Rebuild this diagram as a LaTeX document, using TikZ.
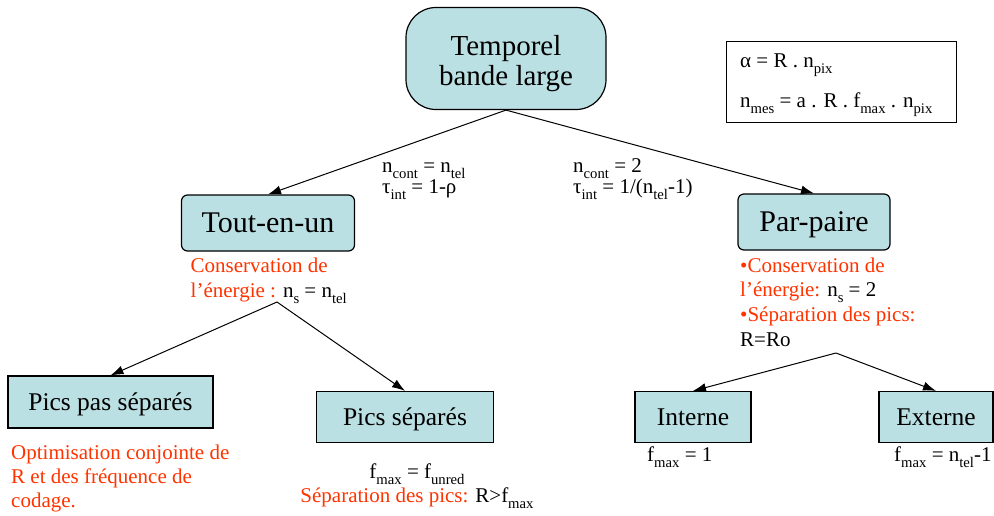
\documentclass[tikz,border=0pt]{standalone}
\usepackage{fontspec}
\setmainfont{Liberation Serif}
\usetikzlibrary{arrows.meta}
\definecolor{boxfill}{HTML}{BBE0E3}
\definecolor{redtxt}{HTML}{FF3300}
\newcommand\lo[1]{\raisebox{-0.3em}{\scalebox{0.7}{#1}}}
\begin{document}
\begin{tikzpicture}[x=1pt,y=-1pt,
  box/.style={draw, fill=boxfill, line width=1.2pt, inner sep=0pt, align=center, text depth=0pt},
  arr/.style={-{Latex[length=13pt,width=9pt]}, line width=1pt},
  lbl/.style={anchor=base west, inner sep=0pt, font=\fontsize{21}{21}\selectfont},
  rtxt/.style={anchor=base west, inner sep=0pt, text=redtxt, font=\fontsize{21}{21}\selectfont}]
\useasboundingbox (0,0) rectangle (994,515);
\node[box, rounded corners=30pt, minimum width=200pt, minimum height=102pt] (top) at (506,58.5) {};
\node[anchor=base, inner sep=0pt, font=\fontsize{29}{30}\selectfont] (topa) at (506,55) {Temporel};
\node[anchor=base, inner sep=0pt, font=\fontsize{29}{30}\selectfont] (topb) at (506,85) {bande large};
\node[box, rounded corners=6pt, minimum width=173pt, minimum height=56pt,
  font=\fontsize{30}{30}\selectfont] (tout) at (268,223) {Tout-en-un};
\node[box, rounded corners=6pt, minimum width=152pt, minimum height=56pt,
  font=\fontsize{30}{30}\selectfont] (par) at (814,222) {Par-paire};
\node[box, minimum width=205pt, minimum height=52pt,
  font=\fontsize{25.5}{25.5}\selectfont] (ppas) at (110.5,402) {Pics pas séparés};
\node[box, minimum width=177pt, minimum height=51pt,
  font=\fontsize{25.5}{25.5}\selectfont] (psep) at (405,417) {Pics séparés};
\node[box, minimum width=116pt, minimum height=51pt,
  font=\fontsize{25.5}{25.5}\selectfont] (int) at (693,417) {Interne};
\node[box, minimum width=114pt, minimum height=51pt,
  font=\fontsize{25.5}{25.5}\selectfont] (ext) at (936,417) {Externe};
% formula box
\node[draw, line width=1pt, minimum width=230pt, minimum height=81pt, inner sep=0pt] (fbox) at (841,82) {};
\node[lbl] (f1) at (740,67) {α = R . n\lo{pix}};
\node[lbl] (f2) at (740,107) {n\lo{mes} = a . R . f\lo{max} . n\lo{pix}};
% branch labels
\node[lbl] (l1) at (382,172) {n\lo{cont} = n\lo{tel}};
\node[lbl] (l2) at (382,193) {τ\lo{int} = 1-ρ};
\node[lbl] (r1) at (573,172) {n\lo{cont} = 2};
\node[lbl] (r2) at (573,193) {τ\lo{int} = 1/(n\lo{tel}-1)};
% Tout-en-un notes
\node[rtxt] (t1) at (190.5,272) {Conservation de};
\node[rtxt] (t2) at (190.5,297) {l’énergie : \textcolor{black}{n\lo{s} = n\lo{tel}}};
% Par-paire notes
\node[rtxt] (p1) at (740,272) {•Conservation de};
\node[rtxt] (p2) at (740,296) {l’énergie: \textcolor{black}{n\lo{s} = 2}};
\node[rtxt] (p3) at (740,321) {•Séparation des pics:};
\node[rtxt, text=black] (p4) at (740,346) {R=Ro};
% Pics pas separes notes
\node[rtxt] (o1) at (11,459) {Optimisation conjointe de};
\node[rtxt] (o2) at (11,483) {R et des fréquence de};
\node[rtxt] (o3) at (11,507) {codage.};
% Pics separes notes
\node[rtxt, anchor=base, text=black] (s1) at (417,478) {f\lo{max} = f\lo{unred}};
\node[rtxt, anchor=base] (s2) at (417,502) {Séparation des pics: \textcolor{black}{R>f\lo{max}}};
% Interne / Externe notes
\node[rtxt, text=black] (i1) at (647,461) {f\lo{max} = 1};
\node[rtxt, text=black] (e1) at (894,461) {f\lo{max} = n\lo{tel}-1};
% connectors
\coordinate (a1) at (277,302);
\coordinate (a2) at (836,353);
\draw[arr] (top.south) -- (tout.north);
\draw[arr] (top.south) -- (par.north);
\draw[arr] (a1) -- (ppas.north);
\draw[arr] (a1) -- (psep.north);
\draw[arr] (a2) -- (int.north);
\draw[arr] (a2) -- (ext.north);
\end{tikzpicture}
\end{document}
